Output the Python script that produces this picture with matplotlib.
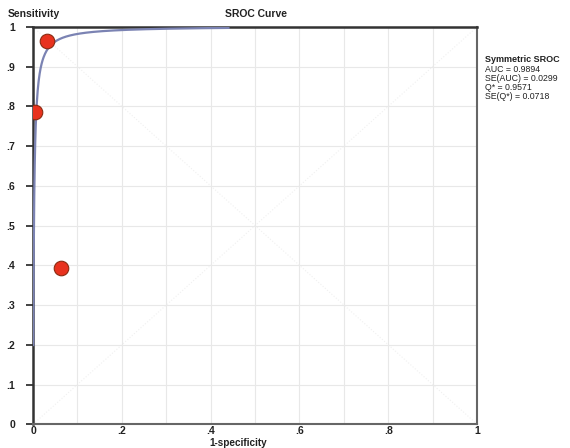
import numpy as np
import matplotlib.pyplot as plt

# Estudios individuales (1-especificidad, sensibilidad)
fpr = [0.032, 0.005, 0.062]
sens = [0.965, 0.787, 0.393]

# Parámetros de la curva SROC simétrica
auc = 0.9894
se_auc = 0.0299
q_star = 0.9571
se_q = 0.0718

# Curva simétrica: logit(S) = a + logit(FPR), con Q* en S = 1 - FPR
a = 2 * np.log(q_star / (1 - q_star))
x = np.linspace(0.0005, 0.44, 400)
y = 1 / (1 + np.exp(-(a + np.log(x / (1 - x)))))

plt.rcParams['font.family'] = ['Liberation Sans', 'DejaVu Sans']

fig = plt.figure(figsize=(5.7, 4.48), dpi=100)
ax = fig.add_axes([0.058, 0.053, 0.779, 0.887])

# Rejilla y diagonales tenues
ax.set_xticks(np.arange(0, 1.01, 0.1), minor=True)
ax.grid(True, which='both', axis='x', color='#e8e8e8', lw=0.8)
ax.grid(True, which='major', axis='y', color='#e8e8e8', lw=0.8)
ax.plot([0, 1], [0, 1], color='#f0f0f0', lw=0.8, ls=':', zorder=1)
ax.plot([0, 1], [1, 0], color='#f0f0f0', lw=0.8, ls=':', zorder=1)

ax.plot(x, y, color='#7b83b3', lw=1.6, zorder=3)
ax.scatter(fpr, sens, s=110, color='#e8321e', edgecolor='#8a2a10', lw=0.8, zorder=4)

ax.set_xlim(0, 1)
ax.set_ylim(0, 1)
ax.set_xticks([0, 0.2, 0.4, 0.6, 0.8, 1])
ax.set_xticklabels(['0', '.2', '.4', '.6', '.8', '1'])
ax.set_yticks(np.arange(0, 1.01, 0.1))
ax.set_yticklabels(['0', '.1', '.2', '.3', '.4', '.5', '.6', '.7', '.8', '.9', '1'])
ax.tick_params(axis='both', labelsize=7.5, colors='#222222', width=1.2)
ax.tick_params(axis='y', length=5, pad=8)
ax.tick_params(axis='x', length=0, pad=1)
ax.tick_params(axis='x', which='minor', length=0)
for lab in ax.get_xticklabels() + ax.get_yticklabels():
    lab.set_fontweight('bold')
for side in ['left', 'top']:
    ax.spines[side].set_color('#333333')
    ax.spines[side].set_linewidth(1.8)
for side in ['right', 'bottom']:
    ax.spines[side].set_color('#666666')
    ax.spines[side].set_linewidth(1.5)

fig.text(0.014, 0.962, 'Sensitivity', fontsize=7.5, fontweight='bold', color='#222222')
fig.text(0.449, 0.962, 'SROC Curve', fontsize=7.5, fontweight='bold', color='#222222', ha='center')
fig.text(0.418, 0.001, '1-specificity', fontsize=7.2, fontweight='bold', color='#222222',
         ha='center', va='bottom')

fig.text(0.851, 0.878, 'Symmetric SROC', fontsize=6.5, fontweight='bold', color='#222222', va='top')
texto = ('AUC = %.4f\nSE(AUC) = %.4f\nQ* = %.4f\nSE(Q*) = %.4f'
         % (auc, se_auc, q_star, se_q))
fig.text(0.851, 0.856, texto, fontsize=6.3, color='#222222', va='top', linespacing=1.0)

fig.savefig('out.png', dpi=100)
